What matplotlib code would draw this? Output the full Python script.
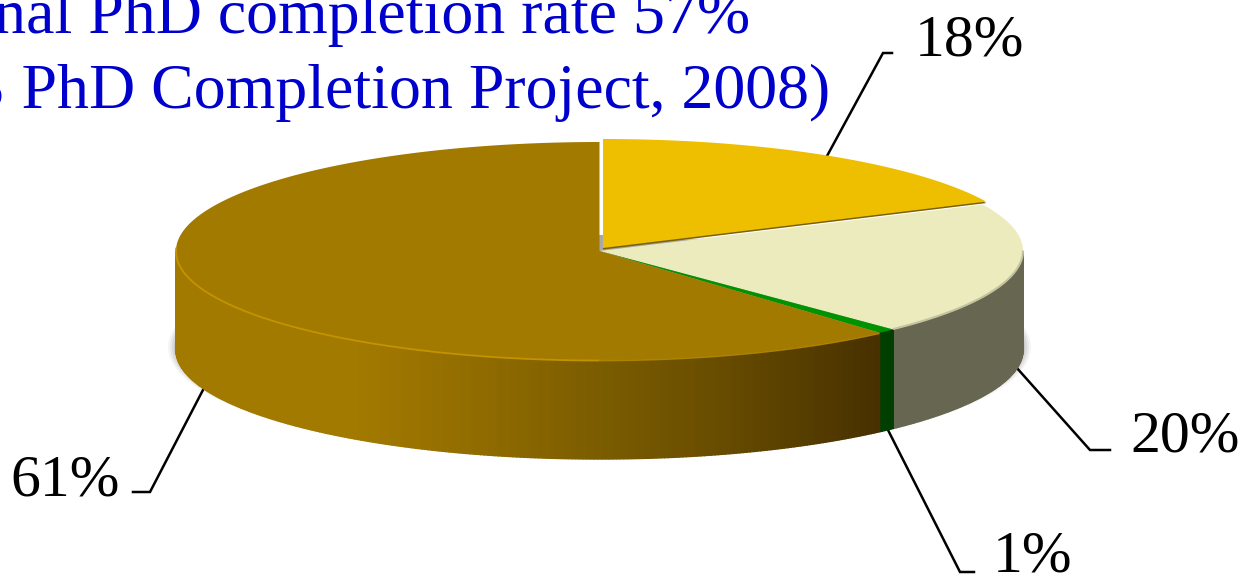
"""3D-look pie of PhD completion shares, drawn as polygons on a pixel-sized canvas."""
import numpy as np
import matplotlib
matplotlib.use("Agg")
import matplotlib.pyplot as plt
from matplotlib.colors import LinearSegmentedColormap
from matplotlib.patches import Polygon

# angular shares (the printed labels are rounded)
shares = [18.0, 19.8, 0.7, 61.5]
labels = ["18%", "20%", "1%", "61%"]
top_colors = ["#EEBE00", "#ECEBBD", "#009300", "#A37A00"]
side_colors = ["#7A6000", "#676650", "#003F00", None]
title_lines = ["National PhD completion rate 57%", "(CGS PhD Completion Project, 2008)"]

CX, CY, RX, RY, DEPTH = 599.5, 251, 423.5, 109, 99
plt.rcParams["font.family"] = ["Liberation Serif", "DejaVu Serif"]

fig = plt.figure(figsize=(12.43, 5.77), dpi=100)
ax = fig.add_axes([0, 0, 1, 1])
ax.set_xlim(0, 1243)
ax.set_ylim(577, 0)
ax.axis("off")

brown_side = LinearSegmentedColormap.from_list(
    "brown_side",
    [(0, "#A37A00"), (0.25, "#A37A00"), (0.436, "#8F6B00"), (0.578, "#7D5E00"),
     (0.744, "#6B4F00"), (1, "#473000")])


def rim(deg, cx=CX, cy=CY):
    a = np.radians(deg)
    return cx + RX * np.sin(a), cy - RY * np.cos(a)


def arc(start, end, cx=CX, cy=CY, step=0.5):
    n = max(2, int(abs(end - start) / step) + 1)
    return rim(np.linspace(start, end, n), cx, cy)


# soft drop shadow under the body
for grow, alpha in zip([11, 9, 7, 5, 3, 1], [0.06, 0.08, 0.10, 0.13, 0.15, 0.18]):
    t = np.linspace(0, 2 * np.pi, 240)
    ax.fill(CX + (RX - 3 + grow) * np.cos(t), CY + 96 + (RY + grow * 0.3) * np.sin(t),
            color="#555555", alpha=alpha, lw=0, zorder=1)

edges = np.concatenate([[0], np.cumsum(shares)]) * 3.6

# grey sliver showing through the gap behind the lifted first slice
ax.add_patch(Polygon([(CX - 1, CY - 16), (CX + 4, CY - 16), (CX + 4, CY), (CX - 1, CY)],
                     color="#A8A8A8", lw=0, zorder=2))

# side walls, only the front half of the disc is visible
for i, (start, end) in enumerate(zip(edges[:-1], edges[1:])):
    lo, hi = max(start, 90), min(end, 270)
    if hi <= lo:
        continue
    steps = np.linspace(lo, hi, max(2, int((hi - lo) / 0.5) + 1))
    for a0, a1 in zip(steps[:-1], steps[1:]):
        x0, y0 = rim(a0)
        x1, y1 = rim(a1)
        if side_colors[i] is None:
            col = brown_side(np.clip((min(x0, x1) - (CX - RX)) / 704, 0, 1))
        else:
            col = side_colors[i]
        ax.add_patch(Polygon([(x0, y0), (x1, y1), (x1, y1 + DEPTH), (x0, y0 + DEPTH)],
                             facecolor=col, edgecolor=col, lw=1.0, zorder=3))

# top faces; the first slice is pulled a little up and to the right
for i, (start, end) in enumerate(zip(edges[:-1], edges[1:])):
    cx, cy = (CX + 3.5, CY - 3) if i == 0 else (CX, CY)
    x, y = arc(start, end, cx, cy)
    if i == 0:
        ax.add_patch(Polygon(np.column_stack([np.r_[cx, x], np.r_[cy + 1.5, y + 1.5]]),
                             color="#7A6000", lw=0, zorder=4))
    ax.add_patch(Polygon(np.column_stack([np.r_[cx, x], np.r_[cy, y]]),
                         color=top_colors[i], lw=0, zorder=5 if i == 0 else 4.5))

# bevel along the front rim
x, y = arc(90, edges[2])
ax.plot(x, y - 0.5, color="#C4C3A0", lw=1.5, zorder=4.6, solid_capstyle="butt")
x, y = arc(edges[3], 180)
ax.plot(x, y + 0.5, color="#AE8300", lw=1.2, zorder=4.6, solid_capstyle="butt")
x, y = arc(180, 272)
ax.plot(x, y + 0.5, color="#C49300", lw=1.3, zorder=4.6, solid_capstyle="butt")

# leader lines and labels
leaders = [
    [(827, 156), (883, 53), (892, 53)],
    [(1016, 367), (1090, 450), (1110, 450)],
    [(888, 430), (960, 572), (974, 572)],
    [(204, 388), (150, 492), (133, 492)],
]
label_pos = [(1024, 55, "right"), (1240, 452, "right"), (1072, 572, "right"), (120, 495, "right")]
for pts, lab, (tx, ty, ha) in zip(leaders, labels, label_pos):
    px, py = zip(*pts)
    ax.plot(px, py, color="black", lw=1.8, zorder=2.5, solid_joinstyle="miter")
    ax.text(tx, ty, lab, ha=ha, va="baseline", fontsize=43, color="black", zorder=6)

ax.text(750, 33, title_lines[0], ha="right", va="baseline", fontsize=46, color="#0000CC", zorder=6)
ax.text(830, 108, title_lines[1], ha="right", va="baseline", fontsize=46, color="#0000CC", zorder=6)

fig.savefig("out.png", dpi=100)
